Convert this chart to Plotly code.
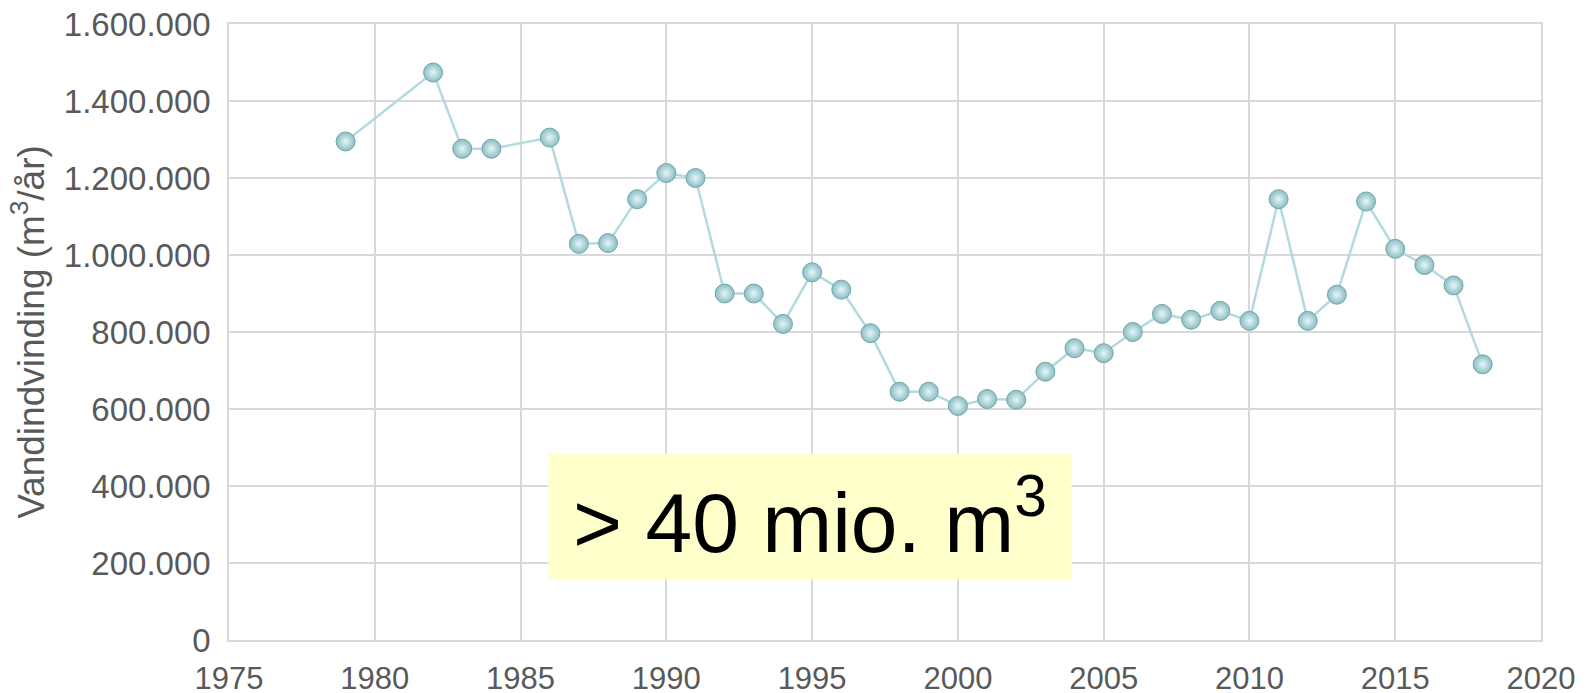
import plotly.graph_objects as go

years = [1979, 1982, 1983, 1984, 1986, 1987, 1988, 1989, 1990, 1991,
         1992, 1993, 1994, 1995, 1996, 1997, 1998, 1999, 2000, 2001,
         2002, 2003, 2004, 2005, 2006, 2007, 2008, 2009, 2010, 2011,
         2012, 2013, 2014, 2015, 2016, 2017, 2018]
volume = [1295000, 1474000, 1276000, 1276000, 1305000, 1029000, 1031000, 1145000, 1213000, 1200000,
          900000, 900000, 821000, 955000, 910000, 797000, 645000, 645000, 608000, 626000,
          624000, 697000, 758000, 745000, 800000, 847000, 832000, 855000, 829000, 1145000,
          829000, 897000, 1139000, 1016000, 974000, 921000, 716000]

y_ticks = [0, 200000, 400000, 600000, 800000, 1000000, 1200000, 1400000, 1600000]
x_ticks = [1975, 1980, 1985, 1990, 1995, 2000, 2005, 2010, 2015, 2020]
y_title = "Vandindvinding (m<sup>3</sup>/år)"
box_text = "> 40 mio. m<sup>3</sup>"

fig = go.Figure()
fig.add_trace(go.Scatter(
    x=years, y=volume, mode="lines+markers",
    line=dict(color="#b3dade", width=2.5),
    marker=dict(size=19, color="#88bec4",
                gradient=dict(type="radial", color="#e6f6f7"),
                line=dict(color="#76a4a9", width=1)),
    showlegend=False,
))

fig.add_annotation(
    x=0.443, y=0.2, xref="paper", yref="paper",
    xanchor="center", yanchor="middle",
    text=box_text, showarrow=False,
    font=dict(family="Liberation Sans, Arial", size=84, color="#000000"),
    bgcolor="#ffffcc", width=516, height=119, borderpad=3,
)

fig.update_layout(
    width=1608, height=701,
    margin=dict(l=229, r=67, t=24, b=61),
    paper_bgcolor="white", plot_bgcolor="white",
    separators=",.",
    font=dict(family="Liberation Sans, Arial", color="#595959"),
    xaxis=dict(
        range=[1975, 2020], tickvals=x_ticks, ticktext=[str(v) for v in x_ticks],
        showgrid=True, gridcolor="#d9d9d9", gridwidth=1.5,
        showline=True, linecolor="#d9d9d9", linewidth=1.5, mirror=True,
        ticks="outside", ticklen=10, tickcolor="rgba(0,0,0,0)",
        tickfont=dict(size=31, color="#595959"), zeroline=False,
        automargin=False, ticklabeloverflow="allow",
    ),
    yaxis=dict(
        range=[0, 1600000], tickvals=y_ticks, tickformat=",d",
        showgrid=True, gridcolor="#d9d9d9", gridwidth=1.5,
        showline=True, linecolor="#d9d9d9", linewidth=1.5, mirror=True,
        ticks="outside", ticklen=10, tickcolor="rgba(0,0,0,0)",
        tickfont=dict(size=33, color="#595959"), zeroline=False,
        automargin=False, ticklabeloverflow="allow",
        title=dict(text=y_title, font=dict(size=37, color="#595959"), standoff=8),
    ),
)

page_fix = ("document.body.style.margin='0';"
            "document.body.style.overflow='hidden';"
            "document.documentElement.style.overflow='hidden';")
fig.write_html("out.html", post_script=page_fix, config={"displayModeBar": False})
